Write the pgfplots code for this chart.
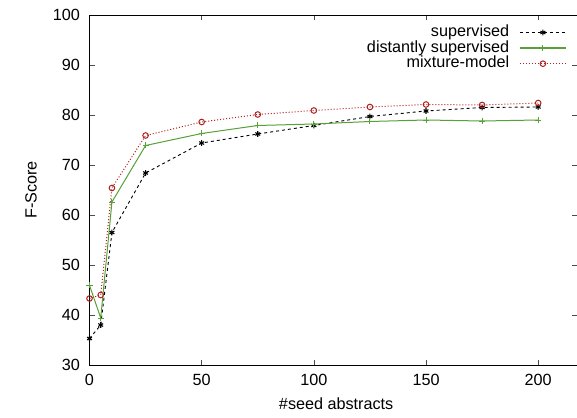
\documentclass[border=0pt]{standalone}
\usepackage{pgfplots}
\pgfplotsset{compat=1.18}
\usepackage{fontspec}
\setmainfont{Liberation Sans}
\definecolor{supc}{RGB}{0,0,0}
\definecolor{distc}{RGB}{88,160,56}
\definecolor{mixc}{RGB}{176,32,32}
\begin{document}
\begin{tikzpicture}
\begin{axis}[
    name=main,
    scale only axis,
    width=487.5pt, height=350pt,
    xmin=0, xmax=217.3,
    ymin=30, ymax=100,
    xtick={0,50,100,150,200},
    ytick={30,40,50,60,70,80,90,100},
    tick align=inside,
    major tick length=5pt,
    axis line style={line width=0.9pt},
    tick style={line width=0.6pt, color=black!70},
    ticklabel style={font=\fontsize{16.2}{19}\selectfont},
    yticklabel style={xshift=-6pt},
    xticklabel style={yshift=-5.5pt},
    /pgf/number format/assume math mode=true,
    xlabel={\#seed abstracts},
    ylabel={F-Score},
    label style={font=\fontsize{16.2}{19}\selectfont},
    xlabel style={at={(axis description cs:0.506,-0.111)}, anchor=center},
    ylabel style={at={(axis description cs:-0.12,0.5)}, anchor=center},
    legend style={at={(axis description cs:0.979,0.972)}, anchor=north east,
        draw=none, fill=none, inner sep=0pt,
        nodes={inner sep=0pt, text height=11.5pt, text depth=3.5pt},
        font=\fontsize{16.2}{19}\selectfont, row sep=0.6pt, column sep=10pt,
        cells={anchor=east}},
    legend plot pos=right,
    legend image code/.code={
        \draw[mark repeat=2,mark phase=2,#1,line width=1.3pt] plot coordinates {(0pt,0pt) (23pt,0pt) (46pt,0pt)};
    },
]
\addplot[color=supc, dashed, line width=0.9pt, mark=asterisk, mark size=2.8pt,
    mark options={solid, line width=1.1pt}] coordinates {
    (0,35.3) (5,38) (10,56.5) (25,68.4) (50,74.4) (75,76.2) (100,77.9)
    (125,79.7) (150,80.8) (175,81.5) (200,81.6)
};
\addlegendentry{supervised}
\addplot[color=distc, solid, line width=1pt, mark=+, mark size=3pt,
    mark options={solid, line width=0.9pt}] coordinates {
    (0,45.95) (5,39.4) (10,62.6) (25,73.9) (50,76.3) (75,77.9) (100,78.2)
    (125,78.7) (150,79) (175,78.8) (200,79)
};
\addlegendentry{distantly supervised}
\addplot[color=mixc, dotted, line width=1pt, mark=o, mark size=2.8pt,
    mark options={solid, line width=1pt}] coordinates {
    (0,43.3) (5,44) (10,65.4) (25,75.9) (50,78.6) (75,80.1) (100,80.9)
    (125,81.6) (150,82.1) (175,82) (200,82.4)
};
\addlegendentry{mixture-model}
\end{axis}
\pgfresetboundingbox
\path[use as bounding box] ([shift={(-89.5pt,-52pt)}]main.south west) rectangle ([shift={(0pt,15pt)}]main.north east);
\end{tikzpicture}
\end{document}
